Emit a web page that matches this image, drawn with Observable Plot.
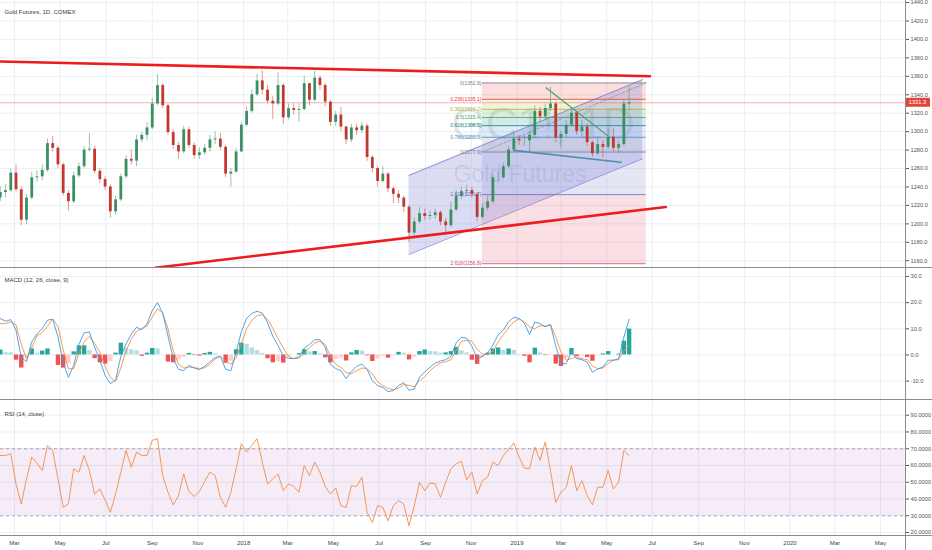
<!DOCTYPE html>
<html>
<head>
<meta charset="utf-8">
<title>Gold Futures, 1D, COMEX</title>
<script src="https://cdn.jsdelivr.net/npm/d3@7"></script>
<script src="https://cdn.jsdelivr.net/npm/@observablehq/plot@0.6"></script>
<style>
  body { margin: 0; background: #fff; }
  #chart { position: relative; width: 932px; height: 550px; overflow: hidden; background: #fff; }
  #chart svg { display: block; }
  .line-h { position: absolute; left: 0; width: 932px; height: 1px; background: #8c8c90; }
  .line-v { position: absolute; left: 905px; top: 0; width: 1px; height: 550px; background: #8c8c90; }
</style>
</head>
<body>
<div id="chart"></div>
<script>
// weekly bars (Fridays from 2017-02-10)
const closes = [1234,1236,1255,1237,1204,1228,1250,1251,1258,1287,
  1282,1264,1233,1224,1252,1262,1280,1281,1257,1248,
  1240,1213,1226,1251,1270,1268,1291,1296,1304,1330,
  1350,1328,1299,1285,1278,1302,1285,1274,1277,1282,
  1291,1292,1283,1254,1256,1278,1307,1322,1340,1355,
  1345,1333,1330,1350,1315,1325,1323,1324,1352,1334,
  1358,1350,1332,1310,1318,1305,1291,1304,1301,1306,
  1272,1260,1246,1254,1238,1232,1228,1218,1190,1202,
  1211,1208,1209,1212,1202,1198,1215,1230,1235,1236,
  1232,1207,1217,1224,1250,1250,1262,1280,1292,1290,
  1290,1296,1322,1316,1325,1330,1293,1297,1307,1320,
  1300,1305,1288,1276,1286,1283,1294,1282,1286,1330,
  1331.3];
const highs = [1240,1243,1259,1264,1240,1232,1256,1258,1264,1292,
  1295,1284,1266,1236,1256,1266,1284,1298,1284,1260,
  1251,1242,1230,1254,1274,1280,1296,1299,1310,1336,
  1362,1352,1330,1302,1288,1306,1305,1288,1282,1286,
  1296,1300,1298,1285,1260,1282,1310,1327,1345,1362,
  1366,1350,1338,1364,1352,1330,1330,1330,1360,1352,
  1366,1360,1352,1334,1322,1326,1306,1308,1308,1310,
  1308,1274,1262,1262,1256,1240,1236,1230,1220,1206,
  1218,1216,1214,1216,1214,1206,1224,1236,1240,1242,
  1240,1234,1222,1230,1254,1256,1266,1284,1298,1296,
  1296,1300,1328,1326,1330,1348,1332,1300,1312,1325,
  1322,1312,1308,1290,1292,1290,1304,1303,1290,1334,
  1348];
const lows = [1224,1228,1234,1235,1198,1199,1226,1245,1247,1256,
  1278,1260,1230,1214,1222,1250,1260,1278,1254,1244,
  1236,1206,1209,1224,1249,1264,1262,1288,1290,1302,
  1328,1325,1296,1281,1270,1276,1282,1270,1270,1274,
  1278,1286,1280,1250,1240,1255,1277,1305,1320,1338,
  1340,1330,1313,1328,1308,1313,1318,1310,1322,1328,
  1332,1345,1327,1306,1306,1300,1286,1288,1296,1298,
  1268,1255,1240,1244,1234,1222,1222,1212,1180,1184,
  1200,1204,1204,1205,1198,1190,1196,1214,1226,1230,
  1228,1202,1204,1214,1222,1245,1248,1260,1278,1285,
  1284,1278,1294,1310,1312,1322,1288,1282,1294,1305,
  1296,1294,1284,1272,1274,1272,1280,1278,1276,1284,
  1322];
const firstOpen = 1228;

const macdLine = [13.9,12.9,13.5,9.5,-1,-2.5,5,8.1,10,13.3,
  13.7,7,-3,-8.6,-4,4,8.5,8.8,3,-2,
  -7.8,-11,-9.5,-0.5,4.2,8,10.6,9.6,11.9,17,
  20,16,7.3,-1.3,-5.5,-6,-4,-5,-5.6,-4.3,
  -2.6,-1,-0.5,-5.5,-6,1,8.8,14,15.9,16.7,
  16,12.3,7.2,3.6,-0.4,-1.3,-1.4,-0.7,2.6,4,
  5.8,5.9,2.9,-3.5,-5.2,-6,-9,-6.3,-4.3,-3.5,
  -5.5,-9.8,-11.7,-12.4,-14,-13.6,-11.7,-10.6,-13.5,-13,
  -8.5,-6.4,-4.7,-3.1,-2.3,-1.8,-0.5,4.6,6.8,6.4,
  3.3,-1.4,-0.6,0.8,3.8,7.7,9.5,12.7,14.4,14,
  12.2,7.8,12.6,12,10.8,11.5,3.5,-3.4,-3.3,1.1,
  -1.4,-1.8,-2.8,-6.6,-5.4,-4.6,-2,-2,-1.5,6.8,
  13.6];
const signalLine = [12,12,12.7,11.5,4,-1.5,2.7,7.4,8.5,11,
  13.7,11,2,-5.3,-5.2,0.5,5,7.1,4.4,1,
  -4.3,-8.5,-10.2,-5,1.6,6,9,10.1,11.2,14.5,
  17.7,16,10,1.7,-3.6,-5,-4.6,-4.8,-5.2,-4.9,
  -3.6,-1.5,-0.5,-2.3,-3.6,-1,4.3,10,13.2,15,
  15.4,13.7,10.2,6.2,2.7,-0.6,-1.4,-1.2,0.6,2.8,
  4.5,5.4,4,-0.5,-3.5,-4.8,-6.7,-7.1,-6,-5,
  -5.2,-7.3,-10.2,-11.8,-12.8,-13.3,-12.7,-11.3,-11.6,-12.2,
  -9.8,-8.3,-6,-4.3,-3,-2.6,-1.8,1.7,5.2,5.6,
  5.3,2.2,0.4,0.1,1.5,5,7.8,10.4,12.6,13.8,
  12.7,10.8,10,11.2,11,11.6,7,1,-2,-1.4,
  -0.8,-1.4,-1.8,-4.2,-5.2,-5,-3.3,-2,-1.8,1.5,
  3.7];
const rsiLine = [66,66,67,49,37,52,65,61.5,57,72,
  69,52,35,37,58,56,66,57,43,46,
  39.5,32,43,56,69,59,68,66,66,75,
  76,54,44,36.5,42,55,44.5,41.5,44.5,50.5,
  56,54,41,35,44,58,73,68,72,76,
  62,49,52,55,45,49,47.5,44,60,54,
  62,56,47.5,43,46.5,36,35,48,47.5,53,
  32,26,36,35,27,36,39,37,24,36,
  50,45,49.5,49,41,50,58,61,62.5,51.5,
  56,43,51,53,62,60,66,69.5,73.5,65,
  58.5,58,71,63,74,57,38,44,47,60,
  45,51,42,36.5,47,47,57,46,50,69,
  66];

const priceTicks = [1160,1180,1200,1220,1240,1260,1280,1300,1320,1340,1360,1380,1400,1420,1440];
const macdTicks = [-10, 0, 10, 20, 30];
const rsiTicks = [20, 30, 40, 50, 60, 70, 80, 90];
const rsiBand = [30, 70];
const monthTicks = ["2017-03-01","2017-05-01","2017-07-01","2017-09-01","2017-11-01",
  "2018-01-01","2018-03-01","2018-05-01","2018-07-01","2018-09-01","2018-11-01",
  "2019-01-01","2019-03-01","2019-05-01","2019-07-01","2019-09-01","2019-11-01",
  "2020-01-01","2020-03-01","2020-05-01"];
const monthLabels = ["Mar","May","Jul","Sep","Nov","2018","Mar","May","Jul","Sep","Nov",
  "2019","Mar","May","Jul","Sep","Nov","2020","Mar","May"];

// fib retracement drawn on the chart
const fibRatios = [0, 0.236, 0.382, 0.5, 0.618, 0.786, 1, 1.618, 2.618];
const fibPrices = [1352.8, 1335.1, 1324.2, 1315.4, 1306.5, 1293.9, 1277.9, 1231.7, 1156.8];
const fibColors = ["#787b86","#e53935","#b0b02a","#43a047","#00897b","#3d8fd1","#787b86","#5c6bc0","#e04060"];
const fibSpan = ["2018-11-16", "2019-06-23"];

// hand drawn lines: [date, price]
const resistance = [["2017-02-10", 1376], ["2019-06-28", 1360]];
const support = [["2017-09-05", 1152.4], ["2019-07-19", 1218.2]];
const channelUpper = [["2018-08-10", 1252.6], ["2019-06-18", 1356.4]];
const channelLower = [["2018-08-10", 1166.8], ["2019-06-18", 1270.7]];
const wedgeTop = [["2019-02-09", 1347.5], ["2019-05-04", 1294.6]];
const wedgeBase = [["2018-12-28", 1279.7], ["2019-05-20", 1266.8]];
const lastPrice = 1331.3;

// ---------------------------------------------------------------
const up = "#3a8f63", down = "#c0392f", grid = "#eceef3";
const font = "Liberation Sans, Arial, sans-serif";

const weeks = d3.utcFriday.range(new Date("2017-02-10"), new Date("2019-06-01"));
const bars = weeks.map((date, i) => {
  const open = i ? closes[i - 1] : firstOpen;
  const hist = macdLine[i] - signalLine[i];
  const prev = i ? macdLine[i - 1] - signalLine[i - 1] : 0;
  return {
    date, open, high: highs[i], low: lows[i], close: closes[i],
    color: closes[i] >= open ? up : down,
    macd: macdLine[i], signal: signalLine[i], rsi: rsiLine[i], hist,
    histColor: hist >= 0 ? (hist >= prev ? "#26a69a" : "#b2dfdb") : (hist <= prev ? "#ef5350" : "#ffcdd2")
  };
});

const xDomain = [new Date("2017-02-10"), new Date("2019-05-31"), new Date("2020-05-01"), new Date("2020-06-03")];
const xOpts = {type: "utc", domain: xDomain, range: [-0.2, 628.6, 880, 904.7]};
const months = monthTicks.map(d => new Date(d));
const labelOf = new Map(months.map((d, i) => [+d, monthLabels[i]]));
const style = {fontFamily: font, fontSize: "6px", color: "#444", background: "transparent"};

const pts = (arr, id) => arr.map(([d, p]) => ({id, date: new Date(d), price: p}));

const fibStart = new Date(fibSpan[0]), fibEnd = new Date(fibSpan[1]);
const fibLevels = fibRatios.map((r, i) => ({
  price: fibPrices[i], color: fibColors[i], label: `${r}(${fibPrices[i].toFixed(1)})`, x1: fibStart, x2: fibEnd
}));
const fibZones = fibPrices.slice(1).map((p, i) => ({
  top: fibPrices[i], bottom: p, color: fibColors[i + 1], x1: fibStart, x2: fibEnd
}));
const channel = channelUpper.map(([d, u], i) => ({date: new Date(d), upper: u, lower: channelLower[i][1]}));

const rightAxis = (ticks, digits) => Plot.axisY({
  anchor: "right", ticks, tickFormat: d => d.toFixed(digits), tickSize: 3, tickPadding: 2,
  fontSize: 5.7, label: null, color: "#555"
});
const title = (text, dy) => Plot.text([text], {frameAnchor: "top-left", dx: 4, dy, fontSize: 6, fill: "#3a3a3a", textAnchor: "start"});

const price = Plot.plot({
  width: 932, height: 268, marginTop: 0, marginBottom: 0, marginLeft: 0, marginRight: 27,
  style,
  x: {...xOpts, axis: null},
  y: {domain: [1151.6, 1442.2]},
  marks: [
    Plot.ruleX(months, {stroke: grid}),
    Plot.ruleY(priceTicks, {stroke: grid}),
    Plot.text(["GC1!, 1D"], {frameAnchor: "top-left", dx: 451, dy: 107, fontSize: 44, fill: "#000", fillOpacity: 0.11}),
    Plot.text(["Gold Futures"], {frameAnchor: "top-left", dx: 453, dy: 165, fontSize: 23, fill: "#000", fillOpacity: 0.11}),
    Plot.rect(fibZones, {x1: "x1", x2: "x2", y1: "bottom", y2: "top", fill: "color", fillOpacity: 0.17}),
    Plot.areaY(channel, {x: "date", y1: "lower", y2: "upper", fill: "#7f83d6", fillOpacity: 0.28}),
    Plot.line(channel, {x: "date", y: "upper", stroke: "#7c80d0", strokeWidth: 0.8}),
    Plot.line(channel, {x: "date", y: "lower", stroke: "#7c80d0", strokeWidth: 0.8}),
    Plot.ruleY(fibLevels, {y: "price", x1: "x1", x2: "x2", stroke: "color", strokeWidth: 0.8}),
    Plot.text(fibLevels, {x: "x1", y: "price", text: "label", fill: "color", textAnchor: "end", dx: -1, fontSize: 5}),
    Plot.line([{date: fibStart, price: fibPrices[6]}, {date: fibEnd, price: fibPrices[0]}],
      {x: "date", y: "price", stroke: "#8a8a8a", strokeDasharray: "2,2", strokeWidth: 0.7}),
    Plot.ruleY([lastPrice], {stroke: "#ef5350", strokeOpacity: 0.45}),
    Plot.ruleX(bars, {x: "date", y1: "low", y2: "high", stroke: "color", strokeOpacity: 0.65, strokeWidth: 0.8}),
    Plot.ruleX(bars, {x: "date", y1: "open", y2: "close", stroke: "color", strokeWidth: 2.8}),
    Plot.line(pts(wedgeTop, "w"), {x: "date", y: "price", stroke: "#4a9e6a", strokeWidth: 1.2}),
    Plot.line(pts(wedgeBase, "b"), {x: "date", y: "price", stroke: "#4f8fa8", strokeWidth: 1.6}),
    Plot.line([...pts(resistance, "r"), ...pts(support, "s")],
      {x: "date", y: "price", z: "id", stroke: "#ee1c1c", strokeWidth: 2.6, clip: true}),
    rightAxis(priceTicks, 1),
    title("Gold Futures, 1D, COMEX", 9)
  ]
});

// current price tag on the axis
const yTag = price.scale("y").apply(lastPrice);
const tag = d3.select(price).append("g");
tag.append("rect").attr("x", 905).attr("y", yTag - 4.5).attr("width", 25).attr("height", 9).attr("fill", "#e0473c");
tag.append("text").attr("x", 917.5).attr("y", yTag).attr("dy", "0.35em").attr("text-anchor", "middle")
  .attr("fill", "#fff").attr("font-size", 5.7).attr("font-family", font).text(lastPrice.toFixed(1));

const macd = Plot.plot({
  width: 932, height: 132, marginTop: 0, marginBottom: 0, marginLeft: 0, marginRight: 27,
  style,
  x: {...xOpts, axis: null},
  y: {domain: [-17.4, 33.05]},
  marks: [
    Plot.ruleX(months, {stroke: grid}),
    Plot.ruleY(macdTicks, {stroke: grid}),
    Plot.ruleX(bars, {x: "date", y1: 0, y2: "hist", stroke: "histColor", strokeWidth: 4.4}),
    Plot.lineY(bars, {x: "date", y: "signal", stroke: "#f5903f", strokeWidth: 0.9}),
    Plot.lineY(bars, {x: "date", y: "macd", stroke: "#3d9ae8", strokeWidth: 0.9}),
    rightAxis(macdTicks, 1),
    title("MACD (12, 26, close, 9)", 9)
  ]
});

const rsi = Plot.plot({
  width: 932, height: 150, marginTop: 0, marginBottom: 15, marginLeft: 0, marginRight: 27,
  style,
  x: {...xOpts},
  y: {domain: [18.2, 98.8]},
  marks: [
    Plot.ruleX(months, {stroke: grid}),
    Plot.ruleY(rsiTicks, {stroke: grid}),
    Plot.rect([rsiBand], {x1: () => xDomain[0], x2: () => xDomain[3], y1: d => d[0], y2: d => d[1], fill: "#9c27b0", fillOpacity: 0.09}),
    Plot.ruleY(rsiBand, {stroke: "#8a8d96", strokeDasharray: "3,3", strokeWidth: 0.7}),
    Plot.lineY(bars, {x: "date", y: "rsi", stroke: "#f28c45", strokeWidth: 0.9}),
    rightAxis(rsiTicks, 4),
    Plot.axisX({ticks: months, tickFormat: d => labelOf.get(+d), tickSize: 0, tickPadding: 5.5, fontSize: 6, label: null, color: "#444"}),
    title("RSI (14, close)", 11)
  ]
});

const root = document.getElementById("chart");
root.append(price, macd, rsi);
for (const top of [267, 399, 535]) {
  const div = document.createElement("div");
  div.className = "line-h";
  div.style.top = top + "px";
  root.append(div);
}
const v = document.createElement("div");
v.className = "line-v";
root.append(v);
</script>
</body>
</html>
